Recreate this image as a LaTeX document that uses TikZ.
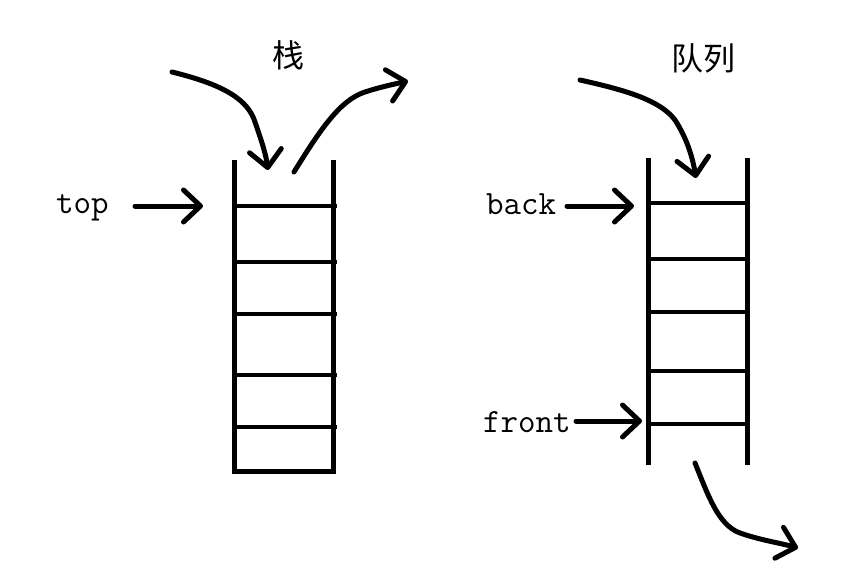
\documentclass[tikz,border=0pt]{standalone}
\usepackage{fontspec}
\newfontfamily\cjk{Noto Sans CJK SC}
\usetikzlibrary{arrows.meta}
\begin{document}
\begin{tikzpicture}[x=1pt,y=-1pt,
  wall/.style={line width=5pt},
  rung/.style={line width=4.5pt},
  arr/.style={line width=5pt, line cap=round, line join=round, -{Straight Barb[length=17pt,width=32pt,line cap=round,line join=round]}},
  lbl/.style={font=\ttfamily\fontsize{34}{34}\selectfont, inner sep=0pt, anchor=base west},
  title/.style={font=\cjk\fontsize{32}{32}\selectfont, inner sep=0pt}]
\useasboundingbox (0,0) rectangle (848,583);
% stack
\draw[wall] (234,160) -- (234,471) -- (333,471) -- (333,160);
\foreach \y in {206,262,314,375,427} \draw[rung] (234,\y) -- (337,\y);
% queue
\draw[wall] (648,158) -- (648,465);
\draw[wall] (747,158) -- (747,465);
\foreach \y in {203,259,312,371,424} \draw[rung] (648,\y) -- (750,\y);
% titles
\node[title] (tstack) at (288,55) {栈};
\node[title] (tqueue) at (703,58) {队列};
% labels
\node[lbl] (top) at (56,213) {top};
\node[lbl] (back) at (486,214) {back};
\node[lbl] (front) at (483,432) {front};
% coordinates
\coordinate (ts) at (135,206); \coordinate (te) at (203,206);
\coordinate (bs) at (567,206); \coordinate (be) at (634,206);
\coordinate (fs) at (576,421); \coordinate (fe) at (642,421);
\coordinate (sin0) at (172,72); \coordinate (sin1) at (268,170);
\coordinate (sout0) at (294,172); \coordinate (sout1) at (408,81);
\coordinate (qin0) at (580,80); \coordinate (qin1) at (696,178);
\coordinate (qout0) at (695,463); \coordinate (qout1) at (798,548);
% arrows
\draw[arr] (ts) -- (te);
\draw[arr] (bs) -- (be);
\draw[arr] (fs) -- (fe);
\draw[arr] (sin0) .. controls (225,85) and (248,100) .. (255,122) .. controls (262,142) and (266,155) .. (sin1);
\draw[arr] (sout0) .. controls (320,130) and (340,100) .. (365,92) .. controls (380,87) and (395,84) .. (sout1);
\draw[arr] (qin0) .. controls (625,90) and (660,100) .. (675,120) .. controls (688,140) and (693,160) .. (qin1);
\draw[arr] (qout0) .. controls (708,495) and (718,525) .. (740,533) .. controls (760,540) and (780,543) .. (qout1);
\end{tikzpicture}
\end{document}
